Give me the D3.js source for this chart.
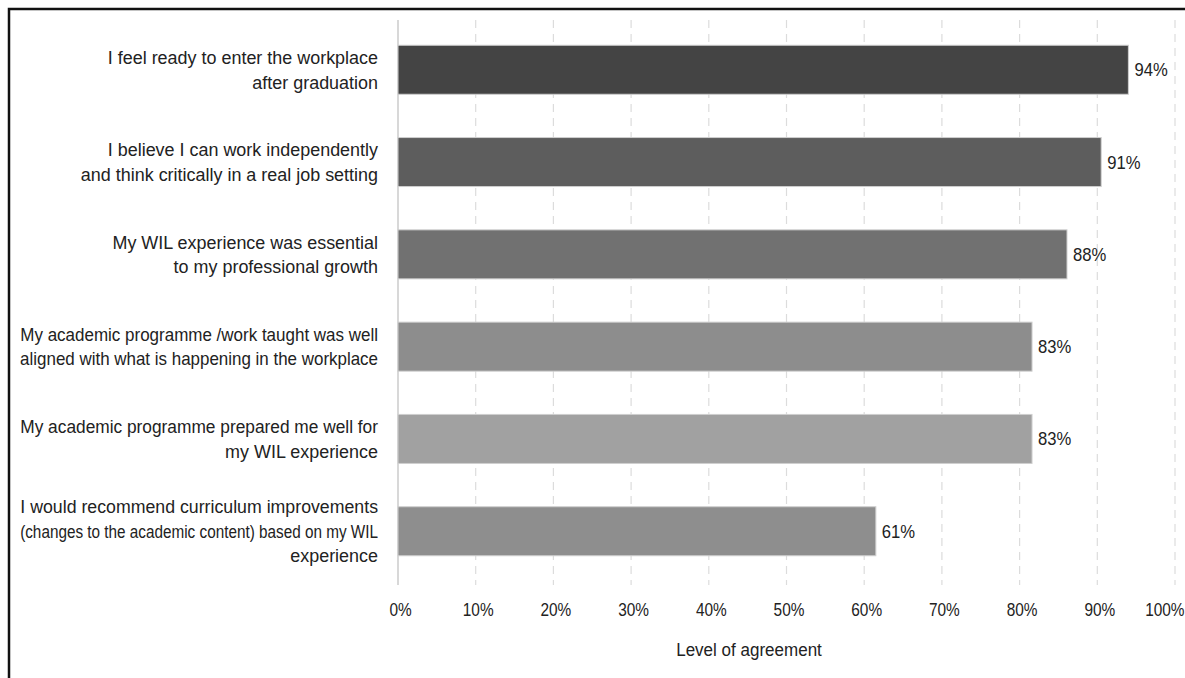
<!DOCTYPE html>
<html><head><meta charset="utf-8">
<script src="https://cdn.jsdelivr.net/npm/d3@7"></script>
<style>
html,body{margin:0;padding:0;background:#fff;}
svg{display:block;}
text{font-family:"Liberation Sans",Arial,sans-serif;fill:#222;}
</style></head>
<body>
<svg id="chart" width="1185" height="678"></svg>
<script>
const categories = [
  ["I feel ready to enter the workplace", "after graduation"],
  ["I believe I can work independently", "and think critically in a real job setting"],
  ["My WIL experience was essential", "to my professional growth"],
  ["My academic programme /work taught was well", "aligned with what is happening in the workplace"],
  ["My academic programme prepared me well for", "my WIL experience"],
  ["I would recommend curriculum improvements", "(changes to the academic content) based on my WIL", "experience"]
];
const values = [0.94, 0.905, 0.861, 0.816, 0.816, 0.615];
const valueLabels = ["94%", "91%", "88%", "83%", "83%", "61%"];
const barColors = ["#444444", "#5d5d5d", "#717171", "#8d8d8d", "#a1a1a1", "#8e8e8e"];
const xTicks = [0, 0.1, 0.2, 0.3, 0.4, 0.5, 0.6, 0.7, 0.8, 0.9, 1.0];
const xTitle = "Level of agreement";

const svg = d3.select("#chart");
const W = 1185, H = 678;

// outer frame (cropped)
svg.append("rect").attr("x", 9).attr("y", 9).attr("width", W + 20).attr("height", H + 20)
  .attr("fill", "none").attr("stroke", "#111").attr("stroke-width", 2.5);

const x = d3.scaleLinear().domain([0, 1]).range([398, 1175]);
const y = d3.scaleBand().domain(d3.range(categories.length))
  .range([23.6, 577.4]).paddingInner(0.469).paddingOuter(0.2345);

const gridTop = 20, gridBottom = 585;

// gridlines
svg.append("g").selectAll("line").data(xTicks.slice(1)).join("line")
  .attr("x1", d => x(d)).attr("x2", d => x(d))
  .attr("y1", gridTop).attr("y2", gridBottom)
  .attr("stroke", "#dcdcdc").attr("stroke-width", 1.2).attr("stroke-dasharray", "8,6");

// zero line
svg.append("line").attr("x1", x(0)).attr("x2", x(0)).attr("y1", gridTop).attr("y2", gridBottom)
  .attr("stroke", "#d8d8d8").attr("stroke-width", 2);

// bars
svg.append("g").selectAll("rect").data(values).join("rect")
  .attr("x", x(0)).attr("y", (d, i) => y(i))
  .attr("width", d => x(d) - x(0)).attr("height", y.bandwidth())
  .attr("fill", (d, i) => barColors[i])
  .attr("stroke", "#cfcfcf").attr("stroke-width", 1);

// value labels
svg.append("g").selectAll("text").data(values).join("text")
  .attr("y", (d, i) => y(i) + y.bandwidth() / 2)
  .attr("dy", "0.35em").attr("font-size", 18.5)
  .attr("transform", d => `translate(${x(d) + 6},0) scale(0.9,1)`)
  .text((d, i) => valueLabels[i]);

// category labels: one text per line, condensed to mimic a narrow face
const lineH = 24.5;
const labelRight = 378, maxLineW = 358, baseSx = 0.97;
const catG = svg.append("g");
categories.forEach((lines, i) => {
  const n = lines.length;
  const cy = y(i) + y.bandwidth() / 2;
  lines.forEach((ln, k) => {
    const ly = cy + (k - (n - 1) / 2) * lineH + 6.5;
    const t = catG.append("text").attr("text-anchor", "end").attr("font-size", 18.5).text(ln);
    const w = t.node().getComputedTextLength();
    const s = Math.min(baseSx, maxLineW / w);
    t.attr("transform", `translate(${labelRight},${ly}) scale(${s},1)`);
  });
});

// x axis
const xAxis = d3.axisBottom(x).tickValues(xTicks).tickFormat(d3.format(".0%")).tickSize(0).tickPadding(0);
const ax = svg.append("g").attr("transform", "translate(0,610)").call(xAxis);
ax.select(".domain").remove();
ax.selectAll("text").attr("font-size", 17.5).attr("dy", "0.35em").attr("fill", "#222")
  .attr("transform", "translate(2,0) scale(0.88,1)")
  .style("font-family", '"Liberation Sans",Arial,sans-serif');
ax.selectAll(".tick").filter(d => d === 1).select("text").attr("text-anchor", "end").attr("dx", 8);

svg.append("text").attr("text-anchor", "middle").attr("dy", "0.35em").attr("font-size", 18.5)
  .attr("transform", `translate(749,650) scale(0.92,1)`).text(xTitle);
</script>
</body></html>
